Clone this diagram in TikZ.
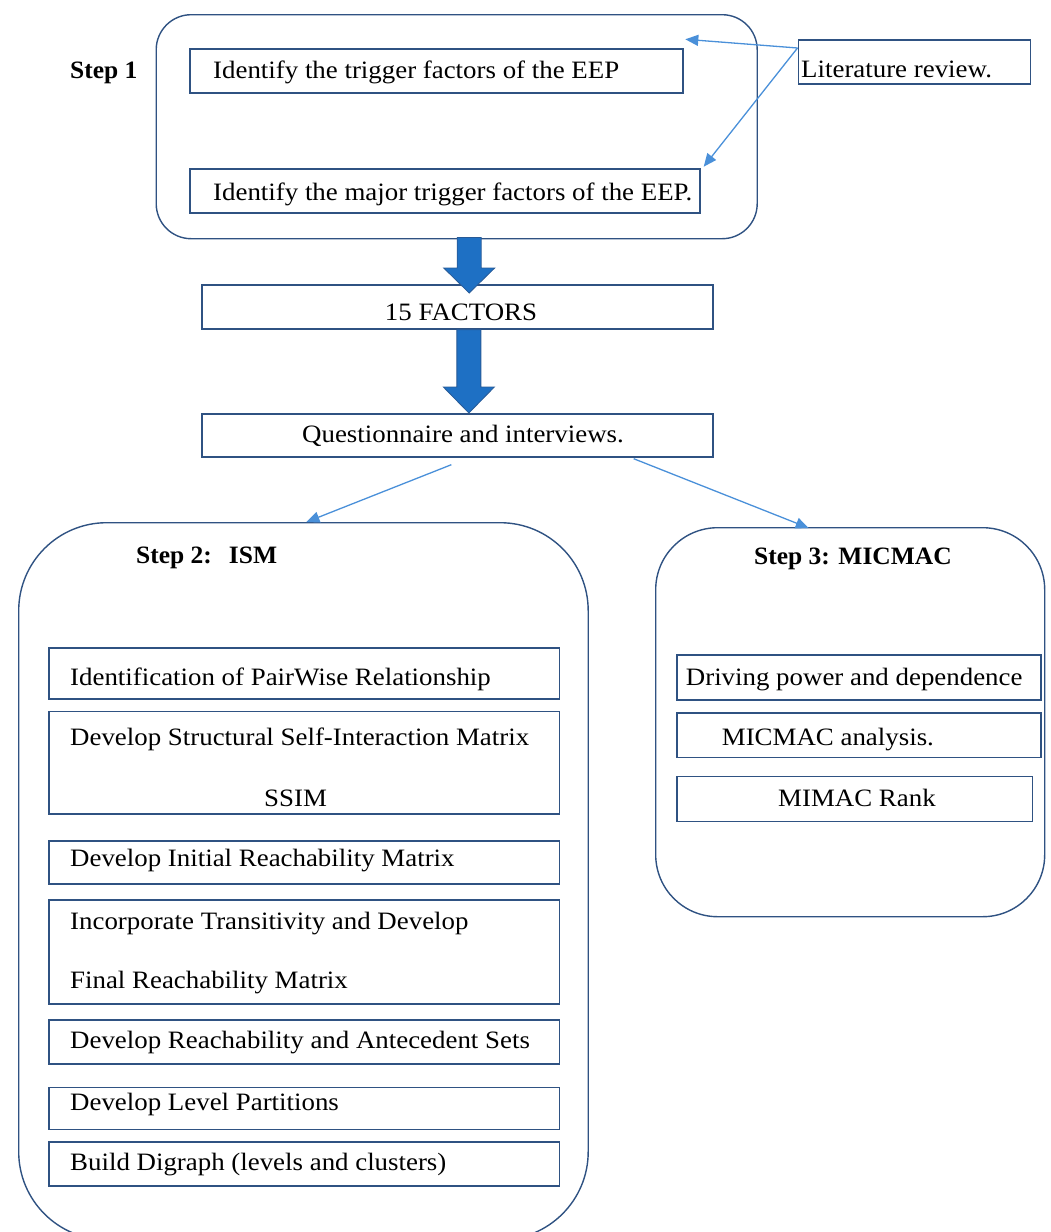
\documentclass[tikz,border=0pt]{standalone}
\usepackage{fontspec}
\setmainfont{Liberation Serif}[FakeStretch=1.075,BoldFeatures={FakeStretch=1.02}]
\usetikzlibrary{arrows.meta,calc}
\definecolor{bordc}{RGB}{47,82,130}
\definecolor{thinb}{RGB}{74,144,217}
\definecolor{blkb}{RGB}{30,112,196}
\definecolor{blke}{RGB}{40,90,150}
\newcommand\fs{\fontsize{25}{30}\selectfont}
\begin{document}
\begin{tikzpicture}[x=1pt,y=-1pt,
  box/.style={draw=bordc,line width=1.7pt,fill=white,rectangle,inner sep=0pt,anchor=north west},
  stepbox/.style={draw=bordc,line width=1.4pt,rectangle,inner sep=0pt,anchor=north west},
  txt/.style={inner sep=0pt,anchor=base west,font=\fs},
  ctxt/.style={inner sep=0pt,anchor=base,font=\fs},
  btxt/.style={inner sep=0pt,anchor=base west,font=\fs\bfseries},
  thinarr/.style={draw=thinb,line width=1.3pt,-{Triangle[width=11pt,length=13pt]}},
  blockarr/.style={fill=blkb,draw=blke,line width=0.8pt,line join=miter}]
\useasboundingbox (0,0) rectangle (1051,1232);
\clip (0,0) rectangle (1051,1232);

% Step boxes
\node[stepbox,rounded corners=35pt,minimum width=601pt,minimum height=224pt] (s1) at (155.5,14) {};
\node[stepbox,rounded corners=88pt,minimum width=569.5pt,minimum height=717pt] (s2) at (18,522) {};
\node[stepbox,rounded corners=62pt,minimum width=389pt,minimum height=389pt] (s3) at (655,527) {};

% Step 1 content
\node[btxt] (st1) at (70,78) {Step 1};
\node[box,minimum width=493pt,minimum height=44pt] (a) at (189,48) {};
\node[txt] (ta) at (213,78) {Identify the trigger factors of the EEP};
\node[box,minimum width=510pt,minimum height=44pt] (b) at (189,168) {};
\node[txt] (tb) at (213,200) {Identify the major trigger factors of the EEP.};
\node[box,minimum width=232pt,minimum height=44pt] (lit) at (797.5,39) {};
\node[txt] (tlit) at (801,77) {Literature review.};

% middle
\node[box,minimum width=511pt,minimum height=44pt] (f15) at (201,284) {};
\node[ctxt] (tf15) at (461,320) {15 FACTORS};
\node[box,minimum width=511pt,minimum height=43pt] (q) at (201,413) {};
\node[ctxt] (tq) at (463,442) {Questionnaire and interviews.};

% Step 2 content
\node[btxt] (st2) at (136,563) {Step 2:\hspace{17pt}ISM};
\node[box,minimum width=510.5pt,minimum height=51pt] (l1) at (48,647) {};
\node[txt] (tl1) at (70,685) {Identification of PairWise Relationship};
\node[box,minimum width=510.5pt,minimum height=102.5pt] (l2) at (48,710.5) {};
\node[txt] (tl2a) at (70,745) {Develop Structural Self-Interaction Matrix};
\node[txt] (tl2b) at (264,806.7) {SSIM};
\node[box,minimum width=510.5pt,minimum height=43pt] (l3) at (48,840) {};
\node[txt] (tl3) at (70,866.7) {Develop Initial Reachability Matrix};
\node[box,minimum width=510.5pt,minimum height=104pt] (l4) at (48,899) {};
\node[txt] (tl4a) at (70,929) {Incorporate Transitivity and Develop};
\node[txt] (tl4b) at (70,988) {Final Reachability Matrix};
\node[box,minimum width=510.5pt,minimum height=44pt] (l5) at (48,1019) {};
\node[txt] (tl5) at (70,1048) {Develop Reachability and Antecedent Sets};
\node[box,minimum width=510.5pt,minimum height=42pt] (l6) at (48,1086.5) {};
\node[txt] (tl6) at (70,1110) {Develop Level Partitions};
\node[box,minimum width=510.5pt,minimum height=44pt] (l7) at (48,1141) {};
\node[txt] (tl7) at (70,1170.7) {Build Digraph (levels and clusters)};

% Step 3 content
\node[btxt] (st3) at (754,564) {Step 3: MICMAC};
\node[box,minimum width=364pt,minimum height=45pt] (r1) at (676,654) {};
\node[txt] (tr1) at (685.7,685) {Driving power and dependence};
\node[box,minimum width=364pt,minimum height=44.5pt] (r2) at (676,712) {};
\node[txt] (tr2) at (721.7,745) {MICMAC analysis.};
\node[box,minimum width=355.5pt,minimum height=45pt] (r3) at (676,775.5) {};
\node[txt] (tr3) at (778,806.7) {MIMAC Rank};

% thin arrows
\draw[thinarr] ($(lit.north west)+(0,9)$) -- ($(a.north east)+(1.6,-8.7)$);
\draw[thinarr] ($(lit.north west)+(0,9)$) -- ($(b.north east)+(3,-1.3)$);
\draw[thinarr] ($(q.south)+(-6,7)$) -- ($(s2.north)+(3,0)$);
\draw[thinarr] ($(q.south east)+(-80,1)$) -- ($(s3.north)+(-41.5,1)$);

% block arrows
\draw[blockarr] let \p1=($(s1.south)+(12.5,-2)$), \p2=($(f15.north)+(11.5,9)$) in
  (\x1-12pt,\y1) -- (\x1+12pt,\y1) -- (\x1+12pt,\y2+25pt) -- (\x1+25.5pt,\y2+25pt)
  -- (\x1,\y2) -- (\x1-25.5pt,\y2+25pt) -- (\x1-12pt,\y2+25pt) -- cycle;
\draw[blockarr] let \p1=($(f15.south)+(11.5,0)$), \p2=($(q.north)+(11.5,0)$) in
  (\x1-12pt,\y1) -- (\x1+12pt,\y1) -- (\x1+12pt,\y2+26pt) -- (\x1+25.5pt,\y2+26pt)
  -- (\x1,\y2) -- (\x1-25.5pt,\y2+26pt) -- (\x1-12pt,\y2+26pt) -- cycle;
\end{tikzpicture}
\end{document}
